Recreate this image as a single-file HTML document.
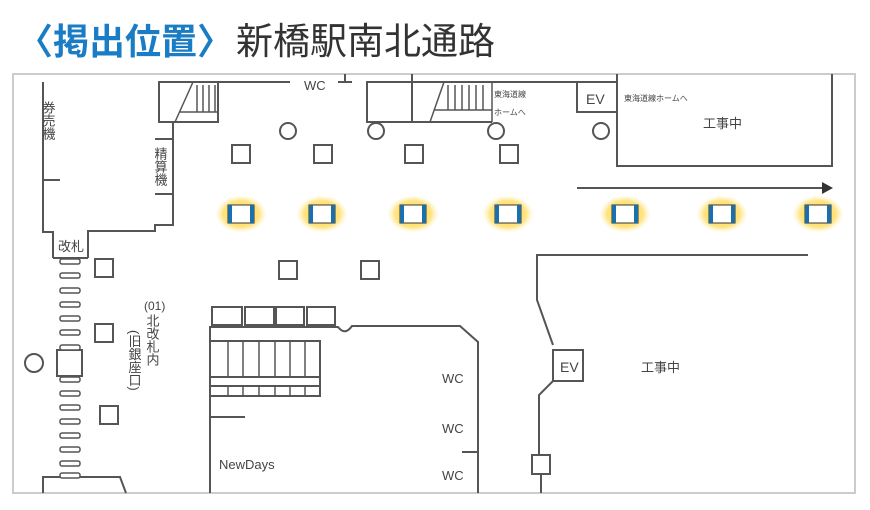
<!DOCTYPE html>
<html><head><meta charset="utf-8"><style>
html,body{margin:0;padding:0;background:#fff;width:870px;height:510px;overflow:hidden}
</style></head><body>
<svg width="870" height="510" viewBox="0 0 870 510" xmlns="http://www.w3.org/2000/svg" font-family="Liberation Sans, Noto Sans CJK JP, sans-serif">
<defs>
<radialGradient id="g" cx="50%" cy="50%" r="50%">
<stop offset="0" stop-color="#ffd84a" stop-opacity="1"/>
<stop offset="0.7" stop-color="#ffdf6a" stop-opacity="0.85"/>
<stop offset="1" stop-color="#fff3c4" stop-opacity="0"/>
</radialGradient>
<g id="hl">
<ellipse cx="0" cy="0" rx="26" ry="19" fill="url(#g)"/>
<rect x="-13" y="-9" width="26" height="18" fill="#fff" stroke="#333" stroke-width="1"/>
<rect x="-13" y="-9" width="4" height="18" fill="#1a6fae"/>
<rect x="9" y="-9" width="4" height="18" fill="#1a6fae"/>
</g>
</defs>
<text x="17" y="54" font-size="36" font-weight="bold" fill="#1a7cc4" font-family="Liberation Sans, Noto Sans CJK JP, sans-serif">〈掲出位置〉</text>
<text x="236" y="54" font-size="37" fill="#333" font-family="Liberation Sans, Noto Sans CJK JP, sans-serif">新橋駅南北通路</text>
<rect x="13" y="74" width="842" height="419" fill="none" stroke="#ccc" stroke-width="2"/>
<g fill="none" stroke="#555" stroke-width="2">
<polyline points="43,82 43,232 53,232 53,258"/>
<line x1="43" y1="180" x2="60" y2="180"/>
<polyline points="88,258 88,231 155,231 155,225 173,225 173,122"/>
<line x1="155" y1="139" x2="173" y2="139"/>
<line x1="155" y1="194" x2="173" y2="194"/>
<line x1="53" y1="258" x2="88" y2="258"/>
<rect x="159" y="82" width="59" height="40"/>
<line x1="159" y1="82" x2="290" y2="82"/>
<line x1="338" y1="82" x2="352" y2="82"/><line x1="345" y1="74" x2="345" y2="82"/>
<rect x="367" y="82" width="45" height="40"/>
<line x1="412" y1="74" x2="412" y2="122"/>
<line x1="412" y1="82" x2="617" y2="82"/>
<line x1="412" y1="122" x2="492" y2="122"/>
<rect x="577" y="82" width="40" height="30"/>
<polyline points="617,74 617,166 832,166 832,74"/>
<line x1="577" y1="188" x2="822" y2="188"/>
<polyline points="808,255 537,255 537,300 553,345"/>
<rect x="553" y="350" width="30" height="31"/>
<polyline points="553,381 539,395 539,455"/>
<rect x="532" y="455" width="18" height="19"/>
<line x1="541" y1="474" x2="541" y2="493"/>
<circle cx="288" cy="131" r="8"/><circle cx="376" cy="131" r="8"/><circle cx="496" cy="131" r="8"/><circle cx="601" cy="131" r="8"/>
<rect x="232" y="145" width="18" height="18"/><rect x="314" y="145" width="18" height="18"/><rect x="405" y="145" width="18" height="18"/><rect x="500" y="145" width="18" height="18"/>
<rect x="279" y="261" width="18" height="18"/><rect x="361" y="261" width="18" height="18"/>
<rect x="95" y="259" width="18" height="18"/><rect x="95" y="324" width="18" height="18"/><rect x="100" y="406" width="18" height="18"/>
<circle cx="34" cy="363" r="9"/>
<rect x="57" y="350" width="25" height="26"/>
<polyline points="43,493 43,477 120,477 126,493"/>
<rect x="212" y="307" width="30" height="18"/><rect x="245" y="307" width="29" height="18"/><rect x="276" y="307" width="28" height="18"/><rect x="307" y="307" width="28" height="18"/>
<path d="M210,493 V327 H338 Q345,336 352,326 H460 L478,342 V493"/>
<line x1="462" y1="452" x2="478" y2="452"/>
<line x1="210" y1="417" x2="245" y2="417"/>
<rect x="210" y="341" width="110" height="55"/>
<line x1="210" y1="377" x2="320" y2="377"/>
<line x1="210" y1="386" x2="320" y2="386"/>
</g>
<path d="M822,182 L833,188 L822,194 Z" fill="#333"/>
<g stroke="#555" stroke-width="1.5">
<line x1="228" y1="341" x2="228" y2="377"/><line x1="243" y1="341" x2="243" y2="377"/><line x1="259" y1="341" x2="259" y2="377"/><line x1="275" y1="341" x2="275" y2="377"/><line x1="290" y1="341" x2="290" y2="377"/><line x1="305" y1="341" x2="305" y2="377"/>
<line x1="228" y1="386" x2="228" y2="396"/><line x1="243" y1="386" x2="243" y2="396"/><line x1="259" y1="386" x2="259" y2="396"/><line x1="275" y1="386" x2="275" y2="396"/><line x1="290" y1="386" x2="290" y2="396"/><line x1="305" y1="386" x2="305" y2="396"/>
<line x1="175" y1="122" x2="193" y2="82"/>
<line x1="197" y1="85" x2="197" y2="112"/><line x1="203" y1="85" x2="203" y2="112"/><line x1="209" y1="85" x2="209" y2="112"/><line x1="215" y1="85" x2="215" y2="112"/>
<line x1="180" y1="112" x2="218" y2="112"/>
<line x1="430" y1="122" x2="444" y2="82"/>
<line x1="444" y1="82" x2="492" y2="82"/><line x1="492" y1="82" x2="492" y2="122"/>
<line x1="448" y1="85" x2="448" y2="110"/><line x1="455" y1="85" x2="455" y2="110"/><line x1="462" y1="85" x2="462" y2="110"/><line x1="469" y1="85" x2="469" y2="110"/><line x1="476" y1="85" x2="476" y2="110"/><line x1="483" y1="85" x2="483" y2="110"/>
<line x1="434" y1="110" x2="492" y2="110"/>
</g>
<g fill="#fff" stroke="#555" stroke-width="1.5">
<rect x="60" y="259" width="20" height="5" rx="2"/><rect x="60" y="273" width="20" height="5" rx="2"/><rect x="60" y="288" width="20" height="5" rx="2"/><rect x="60" y="302" width="20" height="5" rx="2"/><rect x="60" y="316" width="20" height="5" rx="2"/><rect x="60" y="330" width="20" height="5" rx="2"/><rect x="60" y="345" width="20" height="5" rx="2"/><rect x="60" y="377" width="20" height="5" rx="2"/><rect x="60" y="391" width="20" height="5" rx="2"/><rect x="60" y="405" width="20" height="5" rx="2"/><rect x="60" y="419" width="20" height="5" rx="2"/><rect x="60" y="433" width="20" height="5" rx="2"/><rect x="60" y="447" width="20" height="5" rx="2"/><rect x="60" y="461" width="20" height="5" rx="2"/><rect x="60" y="473" width="20" height="5" rx="2"/>
</g>
<use href="#hl" x="241" y="214"/><use href="#hl" x="322" y="214"/><use href="#hl" x="413" y="214"/><use href="#hl" x="508" y="214"/><use href="#hl" x="625" y="214"/><use href="#hl" x="722" y="214"/><use href="#hl" x="818" y="214"/>
<g fill="#444" font-size="13">
<text x="304" y="90">WC</text>
<text x="586" y="104" font-size="14">EV</text>
<text x="560" y="372" font-size="14">EV</text>
<text x="494" y="97" font-size="8">東海道線</text>
<text x="494" y="115" font-size="8">ホームへ</text>
<text x="624" y="101" font-size="8">東海道線ホームへ</text>
<text x="703" y="128" font-size="13">工事中</text>
<text x="641" y="372" font-size="13">工事中</text>
<text x="442" y="383">WC</text><text x="442" y="433">WC</text><text x="442" y="480">WC</text>
<text x="219" y="469">NewDays</text>
<text x="58" y="251" font-size="13">改札</text>
<text x="48" y="101" font-size="13" style="writing-mode:vertical-rl" >券売機</text>
<text x="160" y="147" font-size="13" style="writing-mode:vertical-rl">精算機</text>
<text x="144" y="310" font-size="12">(01)</text>
<text x="152" y="314" font-size="13" style="writing-mode:vertical-rl">北改札内</text>
<text x="134" y="330" font-size="13" style="writing-mode:vertical-rl">(旧銀座口)</text>
</g>
</svg>
</body></html>
